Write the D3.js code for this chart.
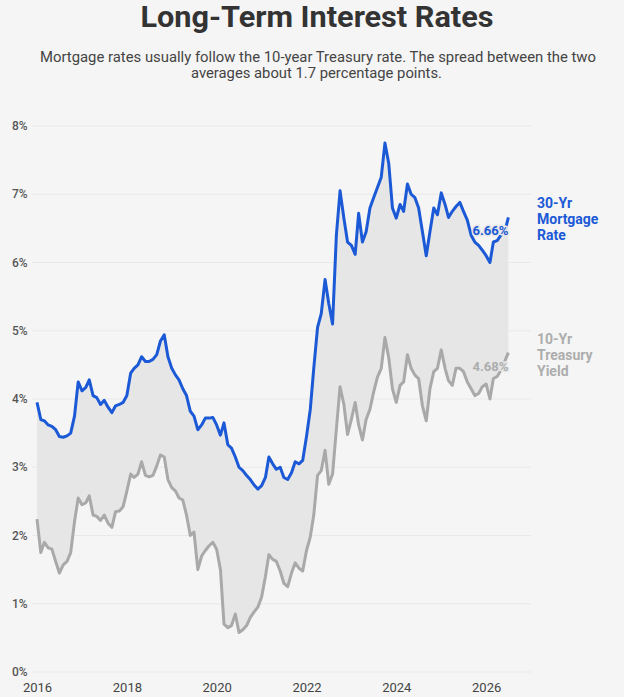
<!DOCTYPE html>
<html>
<head>
<meta charset="utf-8">
<script src="https://cdn.jsdelivr.net/npm/d3@7"></script>
<style>
  html, body { margin: 0; background: #f5f5f5; }
  svg { display: block; font-family: Roboto, "Noto Sans", sans-serif; }
</style>
</head>
<body>
<div id="chart"></div>
<script>
// Monthly averages, starting January 2016
const firstMonth = '2016-01';

const mortgageRate = [
  3.95, 3.70, 3.68, 3.62, 3.60, 3.55, 3.45, 3.44, 3.46, 3.50, 3.75, 4.25, // 2016
  4.12, 4.17, 4.28, 4.05, 4.02, 3.92, 3.98, 3.88, 3.80, 3.90, 3.92, 3.95, // 2017
  4.05, 4.38, 4.45, 4.50, 4.62, 4.55, 4.55, 4.58, 4.65, 4.85, 4.94, 4.62, // 2018
  4.45, 4.35, 4.28, 4.15, 4.05, 3.82, 3.75, 3.55, 3.62, 3.72, 3.72, 3.73, // 2019
  3.62, 3.47, 3.65, 3.33, 3.28, 3.15, 3.00, 2.95, 2.88, 2.82, 2.74, 2.68, // 2020
  2.73, 2.85, 3.15, 3.05, 2.97, 3.00, 2.85, 2.82, 2.92, 3.08, 3.05, 3.10, // 2021
  3.45, 3.85, 4.45, 5.05, 5.25, 5.75, 5.40, 5.10, 6.40, 7.05, 6.65, 6.30, // 2022
  6.25, 6.12, 6.72, 6.30, 6.45, 6.80, 6.95, 7.10, 7.25, 7.75, 7.45, 6.80, // 2023
  6.65, 6.85, 6.75, 7.15, 7.00, 6.95, 6.80, 6.45, 6.10, 6.45, 6.80, 6.70, // 2024
  7.02, 6.85, 6.66, 6.75, 6.82, 6.88, 6.75, 6.62, 6.40, 6.30, 6.25, 6.18, // 2025
  6.10, 6.00, 6.30, 6.32, 6.40, 6.45, 6.66                                // 2026
];

const treasuryYield = [
  2.24, 1.75, 1.90, 1.82, 1.80, 1.62, 1.45, 1.57, 1.62, 1.75, 2.20, 2.55, // 2016
  2.45, 2.48, 2.58, 2.30, 2.28, 2.22, 2.30, 2.18, 2.12, 2.35, 2.36, 2.42, // 2017
  2.65, 2.90, 2.85, 2.90, 3.08, 2.88, 2.86, 2.88, 3.02, 3.18, 3.15, 2.82, // 2018
  2.70, 2.65, 2.55, 2.52, 2.30, 2.00, 2.05, 1.50, 1.70, 1.78, 1.85, 1.90, // 2019
  1.80, 1.50, 0.70, 0.65, 0.68, 0.85, 0.58, 0.62, 0.68, 0.80, 0.88, 0.95, // 2020
  1.10, 1.40, 1.72, 1.65, 1.62, 1.48, 1.30, 1.25, 1.45, 1.60, 1.52, 1.48, // 2021
  1.78, 1.98, 2.30, 2.88, 2.95, 3.25, 2.75, 2.90, 3.56, 4.18, 3.92, 3.48, // 2022
  3.70, 3.95, 3.62, 3.40, 3.70, 3.85, 4.10, 4.32, 4.45, 4.90, 4.60, 4.15, // 2023
  3.95, 4.20, 4.25, 4.65, 4.45, 4.35, 4.30, 3.90, 3.68, 4.15, 4.40, 4.45, // 2024
  4.72, 4.45, 4.27, 4.20, 4.45, 4.45, 4.40, 4.25, 4.15, 4.05, 4.08, 4.18, // 2025
  4.22, 4.00, 4.30, 4.33, 4.42, 4.55, 4.68                                // 2026
];

const yTickValues = [0, 1, 2, 3, 4, 5, 6, 7, 8];
const xTickYears = [2016, 2018, 2020, 2022, 2024, 2026];
const mortgageLabel = ['30-Yr', 'Mortgage', 'Rate'];
const treasuryLabel = ['10-Yr', 'Treasury', 'Yield'];

const width = 624;
const height = 697;
const blue = '#1b59d6';
const gray = '#a9a9a9';

const start = d3.timeParse('%Y-%m')(firstMonth);
const rows = mortgageRate.map((m, i) => ({
  date: d3.timeMonth.offset(start, i),
  mortgage: m,
  treasury: treasuryYield[i],
}));

const x = d3.scaleTime()
  .domain([new Date(2016, 0, 1), new Date(2027, 0, 1)])
  .range([37, 531]);
const y = d3.scaleLinear().domain([0, 8]).range([672, 126]);

const svg = d3.select('#chart').append('svg')
  .attr('width', width)
  .attr('height', height);

// Title and subtitle; condensed look is approximated by squeezing to measured widths
const addText = (txt, cx, baseline, size, weight, fill, w) =>
  svg.append('text')
    .attr('x', cx).attr('y', baseline)
    .attr('text-anchor', 'middle')
    .attr('font-size', size).attr('font-weight', weight)
    .attr('fill', fill)
    .attr('textLength', w).attr('lengthAdjust', 'spacingAndGlyphs')
    .text(txt);

addText('Long-Term Interest Rates', 317, 27, 30, 700, '#333', 353);
addText('Mortgage rates usually follow the 10-year Treasury rate. The spread between the two',
  318, 61.5, 14, 400, '#444', 556);
addText('averages about 1.7 percentage points.', 316.5, 78, 14, 400, '#444', 251);

// Gridlines and y labels
svg.append('g')
  .selectAll('line')
  .data(yTickValues)
  .join('line')
  .attr('x1', 32).attr('x2', x.range()[1])
  .attr('y1', d => y(d)).attr('y2', d => y(d))
  .attr('stroke', '#e9e9e9')
  .attr('stroke-width', 1);

svg.append('g')
  .selectAll('text')
  .data(yTickValues)
  .join('text')
  .attr('x', 12)
  .attr('y', d => y(d) + 4)
  .attr('font-size', 12)
  .attr('font-weight', 500)
  .attr('fill', '#555')
  .text(d => d + '%');

// X axis labels
const xAxis = d3.axisBottom(x)
  .tickValues(xTickYears.map(yr => new Date(yr, 0, 1)))
  .tickFormat(d3.timeFormat('%Y'))
  .tickSize(0)
  .tickPadding(0);

const xg = svg.append('g')
  .attr('transform', 'translate(0,680)')
  .call(xAxis);
xg.select('.domain').remove();
xg.selectAll('text')
  .attr('font-size', 13)
  .attr('font-family', 'Roboto, sans-serif')
  .attr('fill', '#444')
  .attr('dy', '12px');

// Spread band between the two series
const band = d3.area()
  .x(d => x(d.date))
  .y0(d => y(d.treasury))
  .y1(d => y(d.mortgage));

svg.append('path')
  .datum(rows)
  .attr('d', band)
  .attr('fill', '#e6e6e6');

const lineFor = key => d3.line()
  .x(d => x(d.date))
  .y(d => y(d[key]));

svg.append('path')
  .datum(rows)
  .attr('d', lineFor('treasury'))
  .attr('fill', 'none')
  .attr('stroke', gray)
  .attr('stroke-width', 3)
  .attr('stroke-linejoin', 'round');

svg.append('path')
  .datum(rows)
  .attr('d', lineFor('mortgage'))
  .attr('fill', 'none')
  .attr('stroke', blue)
  .attr('stroke-width', 3)
  .attr('stroke-linejoin', 'round');

// End value labels and series names
const last = rows[rows.length - 1];
const endX = x(last.date);

const series = [
  { key: 'mortgage', color: blue, name: mortgageLabel },
  { key: 'treasury', color: '#adadad', name: treasuryLabel },
];

for (const s of series) {
  const endY = y(last[s.key]);
  svg.append('text')
    .attr('x', endX)
    .attr('y', endY + 18)
    .attr('text-anchor', 'end')
    .attr('font-size', 13)
    .attr('font-weight', 700)
    .attr('fill', s.color)
    .attr('stroke', '#e6e6e6')
    .attr('stroke-width', 3)
    .attr('paint-order', 'stroke')
    .text(d3.format('.2f')(last[s.key]) + '%');

  svg.append('g')
    .selectAll('text')
    .data(s.name)
    .join('text')
    .attr('x', 537)
    .attr('y', (d, i) => endY - 9 + i * 16)
    .attr('font-size', 14)
    .attr('font-weight', 700)
    .attr('fill', s.color)
    .text(d => d);
}
</script>
</body>
</html>
